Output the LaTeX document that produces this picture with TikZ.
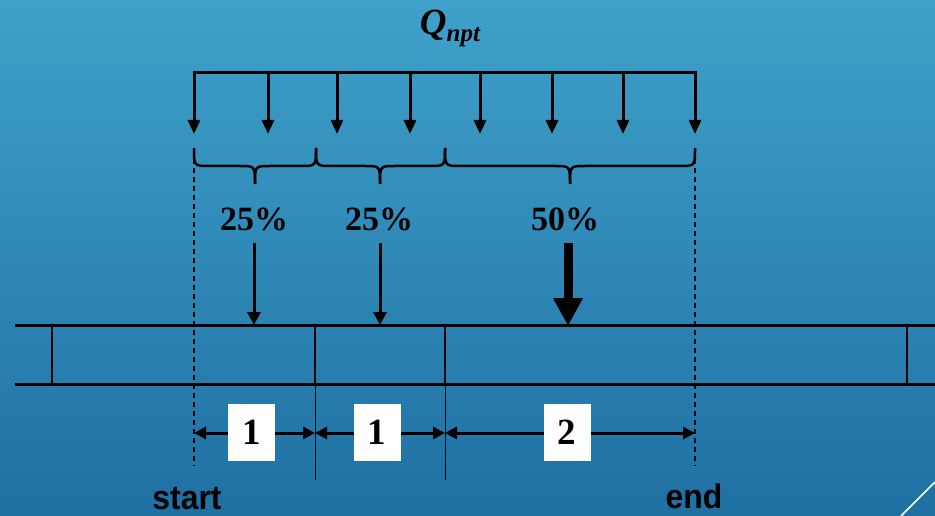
\documentclass[tikz,border=0pt]{standalone}
\usepackage{fontspec}
\setmainfont{Liberation Serif}
\setsansfont{Liberation Sans}
\usetikzlibrary{arrows.meta}
\definecolor{bgtop}{HTML}{3FA1CA}
\definecolor{bgbot}{HTML}{1F70A3}
\tikzset{
  load/.style={line width=3pt,-{Triangle[width=12pt,length=14pt]}},
  ptload/.style={line width=3pt,-{Triangle[width=13pt,length=13pt]}},
  bigload/.style={line width=9pt,-{Triangle[width=28pt,length=28pt]}},
  barline/.style={line width=3pt},
  sep/.style={line width=2pt},
  thinsep/.style={line width=0.8pt},
  guide/.style={line width=1.5pt,dash pattern=on 5pt off 4pt},
  brace/.style={line width=2.5pt},
  dim/.style={line width=3pt,{Triangle[width=12pt,length=12pt]}-{Triangle[width=12pt,length=12pt]}},
  pct/.style={font=\fontsize{34}{34}\selectfont\bfseries,inner sep=0pt},
  numbox/.style={fill=white,minimum width=47pt,minimum height=57pt,inner sep=0pt,font=\fontsize{37}{37}\selectfont\bfseries},
  lbl/.style={font=\sffamily\bfseries\fontsize{34}{34}\selectfont,inner sep=0pt,anchor=base,xscale=0.94}
}
\begin{document}
\begin{tikzpicture}[x=1pt,y=-1pt]
\shade[top color=bgtop,bottom color=bgbot] (0,0) rectangle (935,516);
\useasboundingbox (0,0) rectangle (935,516);
% title
\node (q) at (450,28) {\fontsize{37}{37}\selectfont\bfseries\itshape Q\raisebox{-7pt}{\fontsize{25}{25}\selectfont npt}};
% distributed load
\coordinate (tl) at (194,73);
\coordinate (tr) at (695,73);
\draw[barline,line cap=rect] (tl) -- (tr);
\foreach \x [count=\i] in {194,268,337,410,480,552,623,695}{
  \coordinate (ls\i) at (\x,73);
  \coordinate (le\i) at (\x,134);
  \draw[load] (ls\i) -- (le\i);
}
% braces
\foreach \a/\m/\b in {194/255/316,316/380/445,445/570/695}{
  \draw[brace] (\a,148) .. controls (\a,166) .. (\a+15,166) -- (\m-15,166)
     .. controls (\m,166) .. (\m,184);
  \draw[brace] (\m,184) .. controls (\m,166) .. (\m+15,166) -- (\b-15,166)
     .. controls (\b,166) .. (\b,148);
}
% guides
\coordinate (g1t) at (194,150); \coordinate (g1b) at (194,466);
\coordinate (g2t) at (695,150); \coordinate (g2b) at (695,466);
\draw[guide] (g1t) -- (g1b);
\draw[guide] (g2t) -- (g2b);
% percent labels
\node[pct] (p1) at (254,219) {25\%};
\node[pct] (p2) at (379,219) {25\%};
\node[pct] (p3) at (565,219) {50\%};
% bar
\coordinate (bl) at (15,325); \coordinate (br) at (935,325);
\coordinate (cl) at (15,384); \coordinate (cr) at (935,384);
\draw[barline] (bl) -- (br);
\draw[barline] (cl) -- (cr);
\foreach \x in {52,907}{ \draw[sep] (\x,325) -- (\x,384); }
\coordinate (s1t) at (315,325); \coordinate (s1b) at (315,480);
\coordinate (s2t) at (445,325); \coordinate (s2b) at (445,480);
\draw[sep] (s1t) -- (315,384); \draw[thinsep] (315,384) -- (s1b);
\draw[sep] (s2t) -- (445,384); \draw[thinsep] (445,384) -- (s2b);
% point loads
\coordinate (a1) at (254,243); \coordinate (a1e) at (254,325);
\coordinate (a2) at (380,243); \coordinate (a2e) at (380,325);
\coordinate (a3) at (568,243); \coordinate (a3e) at (568,326);
\draw[ptload] (a1) -- (a1e);
\draw[ptload] (a2) -- (a2e);
\draw[bigload] (a3) -- (a3e);
% dimensions
\coordinate (d0) at (194,433); \coordinate (d1) at (315,433);
\coordinate (d2) at (445,433); \coordinate (d3) at (695,433);
\draw[dim] (d0) -- (d1);
\draw[dim] (d1) -- (d2);
\draw[dim] (d2) -- (d3);
\node[numbox] (n1) at (251.5,432) {1};
\node[numbox] (n2) at (377,432) {1};
\node[numbox] (n3) at (567,432) {2};
% labels
\node[lbl] (st) at (187,509) {start};
\node[lbl] (en) at (694,508) {end};
% decorative line
\coordinate (w1) at (935,482); \coordinate (w2) at (901,516);
\draw[white,line width=1.5pt] (w1) -- (w2);
\end{tikzpicture}
\end{document}
